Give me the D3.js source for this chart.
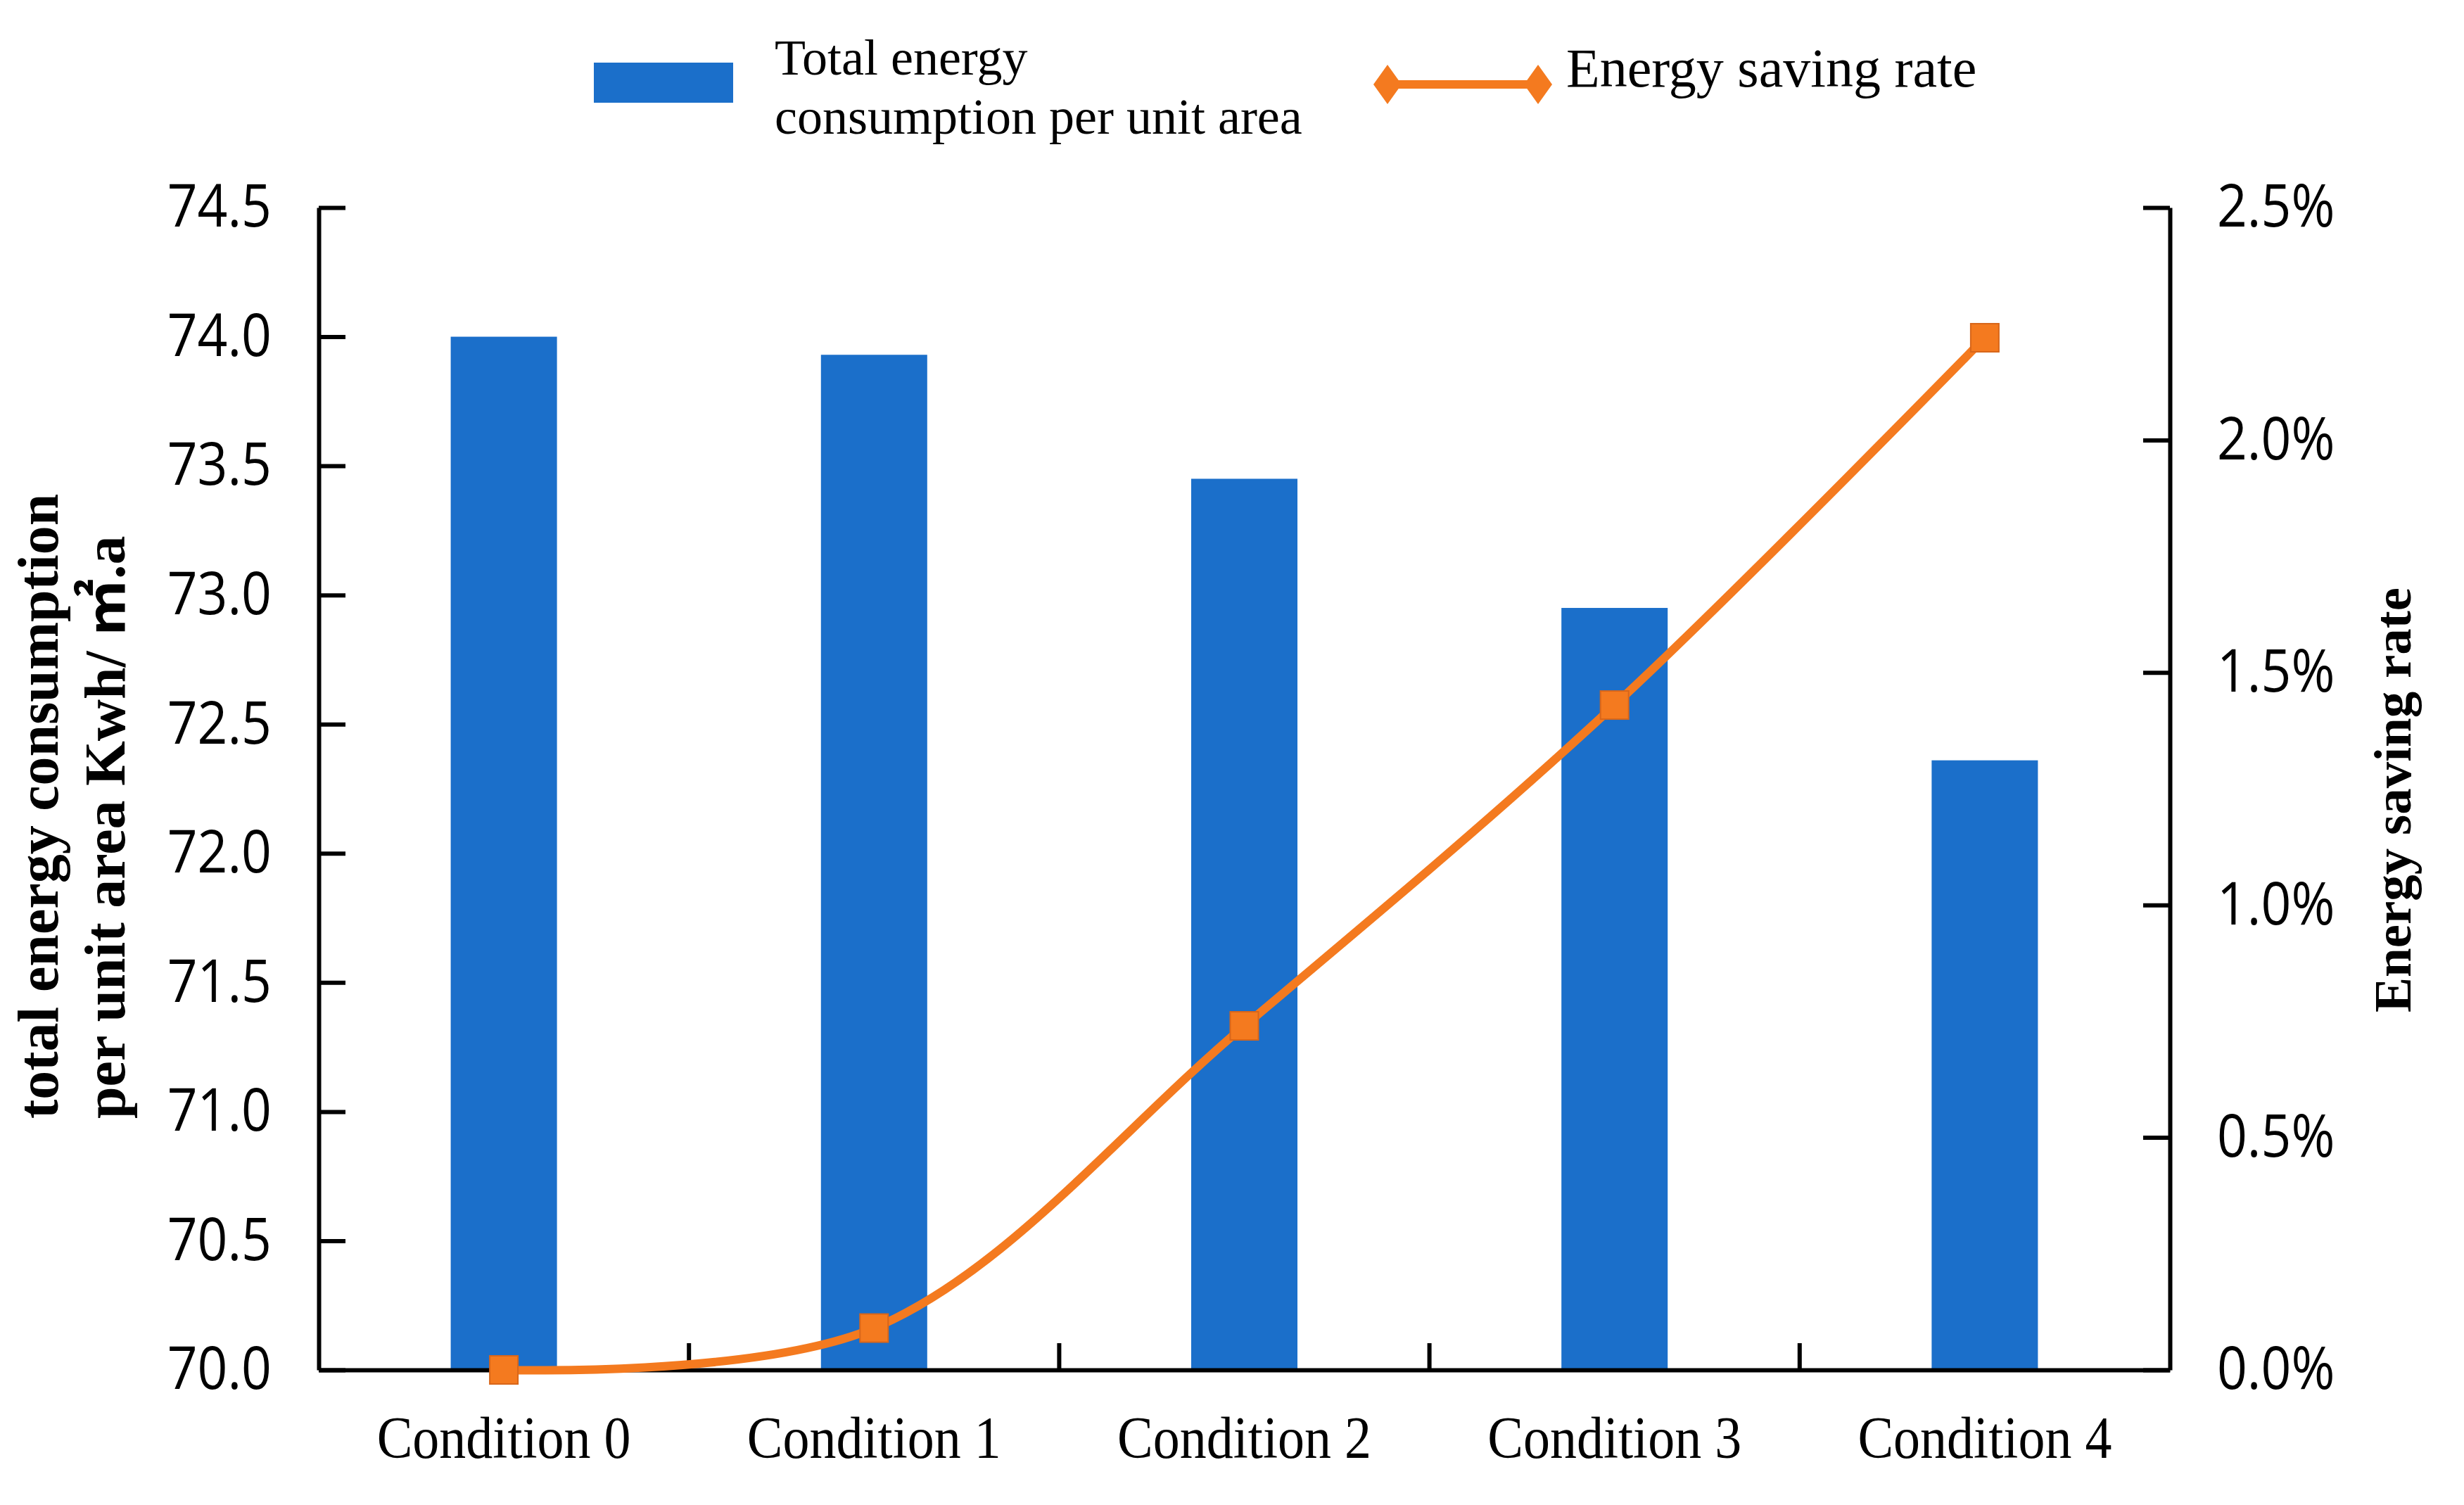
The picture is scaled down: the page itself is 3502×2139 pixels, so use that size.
<!DOCTYPE html>
<html>
<head>
  <meta charset="UTF-8">
  <style>
    body { margin: 0; background: #fff; }
    .tick text { fill: #000; }
  </style>
</head>
<body>
<svg></svg>

<script src="https://d3js.org/d3.v7.min.js"></script>
<script>

// data
const categories = ["Condition 0", "Condition 1", "Condition 2", "Condition 3", "Condition 4"];
const consumption = [74.0, 73.93, 73.45, 72.95, 72.36];
const savingRate = [0.0, 0.0009, 0.0074, 0.0143, 0.0222];
const leftTicks = [70.0, 70.5, 71.0, 71.5, 72.0, 72.5, 73.0, 73.5, 74.0, 74.5];
const rightTicks = [0, 0.005, 0.01, 0.015, 0.02, 0.025];

let width = 3502, height = 2139;
let svg = d3.select("svg")
    .attr("width", width)
    .attr("height", height)
    .attr("viewBox", "0 0 " + width + " " + height);

const blue = "#1b6fca", orange = "#f47a1f";
const sans = "'Open Sans', 'Noto Sans', sans-serif";
const serif = "'Liberation Serif', 'Noto Sans CJK SC', serif";
const stretch = 1.12; // the source glyphs are a bit taller than wide

let plotL = 453, plotR = 3084, plotT = 295, plotB = 1947;

let x = d3.scaleBand().domain(categories).range([plotL, plotR]);
let y = d3.scaleLinear().domain([70, 74.5]).range([plotB, plotT]);
let y2 = d3.scaleLinear().domain([0, 0.025]).range([plotB, plotT]);

// bars
let barW = x.bandwidth() * 0.287;
svg.append("g")
    .selectAll("rect")
    .data(categories)
    .enter()
    .append("rect")
    .attr("x", d => x(d) + (x.bandwidth() - barW) / 2)
    .attr("y", (d, i) => y(consumption[i]))
    .attr("width", barW)
    .attr("height", (d, i) => plotB - y(consumption[i]))
    .attr("fill", blue);

// left axis
let yAxis = d3.axisLeft(y)
    .tickValues(leftTicks)
    .tickFormat(d3.format(".1f"))
    .tickSizeInner(-38)
    .tickSizeOuter(0)
    .tickPadding(67);
let gy = svg.append("g")
    .attr("transform", "translate(" + plotL + ",0)")
    .call(yAxis);
gy.selectAll("text")
    .attr("font-family", sans)
    .attr("font-size", 75)
    .attr("transform", "scale(1," + stretch + ")");

// right axis
let y2Axis = d3.axisRight(y2)
    .tickValues(rightTicks)
    .tickFormat(d3.format(".1%"))
    .tickSizeInner(-38)
    .tickSizeOuter(0)
    .tickPadding(67);
let gy2 = svg.append("g")
    .attr("transform", "translate(" + plotR + ",0)")
    .call(y2Axis);
gy2.selectAll("text")
    .attr("font-family", sans)
    .attr("font-size", 75)
    .attr("transform", "scale(1," + stretch + ")");

// bottom axis
let xAxis = d3.axisBottom(x).tickSize(0).tickPadding(58);
let gx = svg.append("g")
    .attr("transform", "translate(0," + plotB + ")")
    .call(xAxis);
gx.selectAll("text")
    .attr("font-family", serif)
    .attr("font-size", 76)
    .attr("transform", "scale(1," + stretch + ")");
gx.selectAll(".sep")
    .data(categories.slice(1))
    .enter()
    .append("line")
    .attr("x1", d => x(d))
    .attr("x2", d => x(d))
    .attr("y1", 0)
    .attr("y2", -38)
    .attr("stroke", "#000")
    .attr("stroke-width", 6);

svg.selectAll(".domain, .tick line")
    .attr("stroke", "#000")
    .attr("stroke-width", 6);

// saving rate line
let line = d3.line()
    .x((d, i) => x(categories[i]) + x.bandwidth() / 2)
    .y(d => y2(d))
    .curve(d3.curveCatmullRom.alpha(0.5));

svg.append("path")
    .datum(savingRate)
    .attr("d", line)
    .attr("fill", "none")
    .attr("stroke", orange)
    .attr("stroke-width", 12);

let mk = 40;
svg.append("g")
    .selectAll("rect")
    .data(savingRate)
    .enter()
    .append("rect")
    .attr("x", (d, i) => x(categories[i]) + x.bandwidth() / 2 - mk / 2)
    .attr("y", d => y2(d) - mk / 2)
    .attr("width", mk)
    .attr("height", mk)
    .attr("fill", orange)
    .attr("stroke", "#d8661a")
    .attr("stroke-width", 2);

// axis titles
let lt = svg.append("text")
    .attr("transform", "translate(82,1590) rotate(-90)")
    .attr("font-family", serif)
    .attr("font-size", 82)
    .attr("font-weight", "bold")
    .attr("text-anchor", "start");
lt.append("tspan").attr("x", 0).attr("y", 0).text("total energy consumption");
lt.append("tspan").attr("x", 0).attr("y", 95).text("per unit area Kwh/ ㎡.a");

svg.append("text")
    .attr("transform", "translate(3426,1137) rotate(-90)")
    .attr("font-family", serif)
    .attr("font-size", 75)
    .attr("font-weight", "bold")
    .attr("text-anchor", "middle")
    .text("Energy saving rate");

// legend
svg.append("rect")
    .attr("x", 844).attr("y", 89)
    .attr("width", 198).attr("height", 57)
    .attr("fill", blue);

svg.append("text")
    .attr("x", 1101).attr("y", 106)
    .attr("font-family", serif)
    .attr("font-size", 72)
    .text("Total energy");
svg.append("text")
    .attr("x", 1101).attr("y", 190)
    .attr("font-family", serif)
    .attr("font-size", 72)
    .text("consumption per unit area");

svg.append("line")
    .attr("x1", 1972).attr("x2", 2186)
    .attr("y1", 120).attr("y2", 120)
    .attr("stroke", orange)
    .attr("stroke-width", 12);

svg.selectAll(".legdiamond")
    .data([1972, 2186])
    .enter()
    .append("path")
    .attr("d", d => "M" + d + ",92 L" + (d + 20) + ",120 L" + d + ",148 L" + (d - 20) + ",120 Z")
    .attr("fill", orange);

svg.append("text")
    .attr("x", 2226).attr("y", 123)
    .attr("font-family", serif)
    .attr("font-size", 78)
    .text("Energy saving rate");

</script>

</body>
</html>
